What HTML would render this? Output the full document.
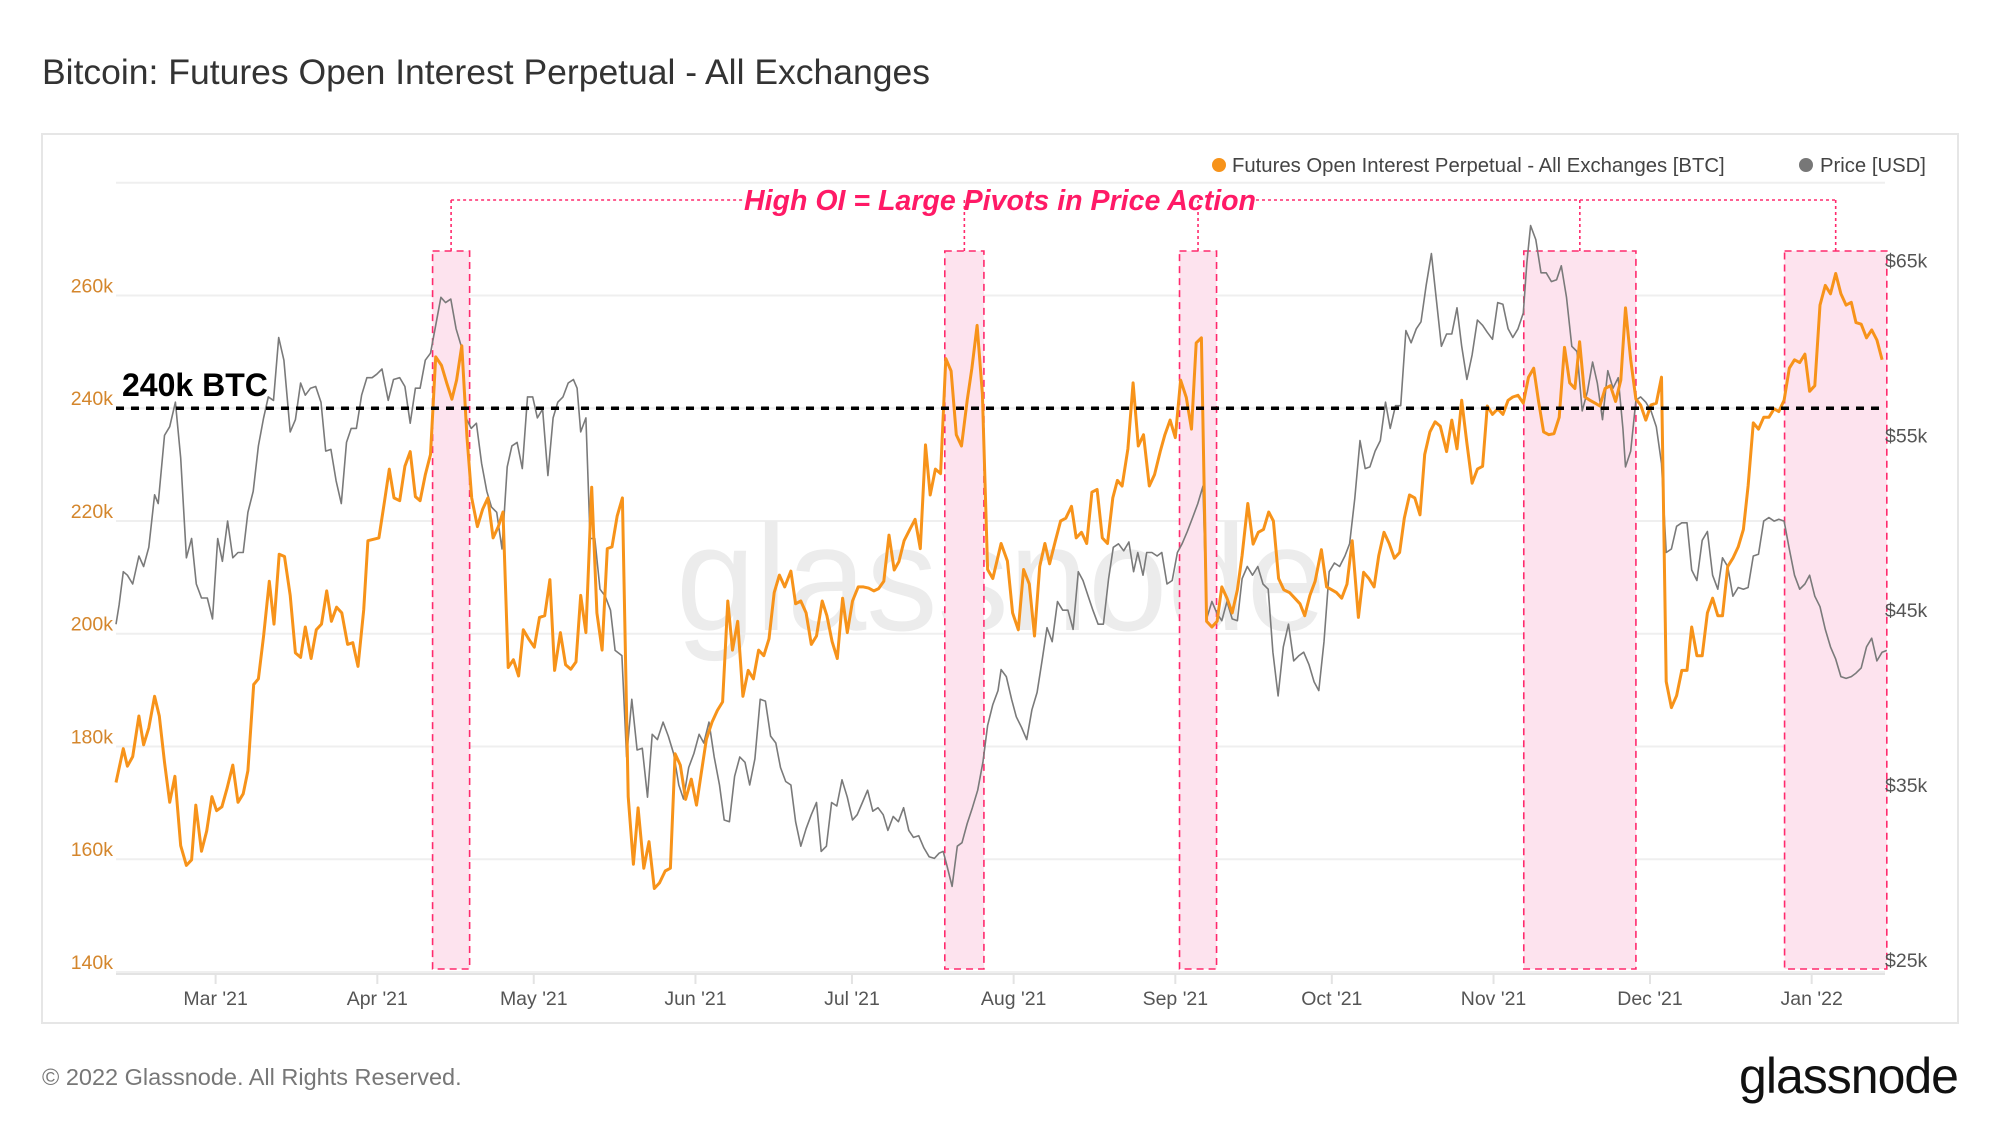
<!DOCTYPE html>
<html><head><meta charset="utf-8">
<style>
html,body{margin:0;padding:0;background:#fff;}
body{width:2000px;height:1126px;overflow:hidden;font-family:"Liberation Sans",sans-serif;}
svg{display:block;}
</style></head>
<body>
<svg id="chart" width="2000" height="1126" viewBox="0 0 2000 1126" xmlns="http://www.w3.org/2000/svg">
  <text x="42" y="84" font-size="35.5" fill="#333">Bitcoin: Futures Open Interest Perpetual - All Exchanges</text>
  <rect x="42" y="134" width="1916" height="889" fill="#fff" stroke="#e6e6e6" stroke-width="2"/>
  <g id="grid"></g>
  <text x="1001" y="630" text-anchor="middle" font-size="150" fill="#ececec" textLength="650" lengthAdjust="spacingAndGlyphs">glassnode</text>
  <g id="boxes"></g>
  <g id="series"></g>
  <g id="axes"></g>
  <g>
    <g>
      <circle cx="1219" cy="165" r="7" fill="#f7931a"/>
      <text x="1232" y="172" font-size="20.3" fill="#444">Futures Open Interest Perpetual - All Exchanges [BTC]</text>
    </g>
    <g>
      <circle cx="1806" cy="165" r="7" fill="#777"/>
      <text x="1820" y="172" font-size="20.3" fill="#444">Price [USD]</text>
    </g>
  </g>
  <text x="122" y="396" font-size="32" font-weight="bold" fill="#000">240k BTC</text>
  <text x="1000" y="210" text-anchor="middle" font-size="29" font-weight="bold" font-style="italic" fill="#ff1a66" textLength="512" lengthAdjust="spacingAndGlyphs">High OI = Large Pivots in Price Action</text>
  <text x="42" y="1085" font-size="23.5" fill="#777">© 2022 Glassnode. All Rights Reserved.</text>
  <text x="1958" y="1093" text-anchor="end" font-size="50" fill="#111" letter-spacing="-1">glassnode</text>
</svg>
<script>
const oiDays=[-19.1,-17.7,-16.9,-15.9,-14.7,-13.8,-12.8,-11.7,-10.8,-9.8,-8.8,-7.8,-6.7,-5.6,-4.6,-3.8,-2.7,-1.7,-0.7,0.2,1.2,2.2,3.3,4.3,5.3,6.2,7.3,8.2,9.2,10.3,11.2,12.2,13.2,14.3,15.3,16.3,17.2,18.3,19.3,20.3,21.3,22.2,23.2,24.2,25.3,26.3,27.3,28.4,29.2,31.3,32.4,33.3,34.2,35.3,36.3,37.3,38.3,39.2,40.2,41.2,42.2,43.3,44.3,45.3,46.2,47.2,48.2,49.1,50.2,51.2,52.2,53.2,54.2,55.1,56.1,57.1,58.1,59,60,61.1,62.1,63.1,64.1,65,66.1,67.1,68.1,69.1,70,71,72.1,73.1,74.1,75.1,76,77,78,79.1,80.1,81,82.1,83.1,84.1,85.1,86.2,87.2,88.1,89.1,90.1,91.2,92.2,93.1,94.1,95.2,96.2,97.2,98.2,99.1,100.1,101.1,102.1,103.1,104.1,105.1,106.1,107.1,108.1,109.1,110.3,111.2,112.2,113.2,114.2,115.2,116.3,117.2,118.2,119.2,120.2,121.1,122.1,123.2,124.2,125.2,126.2,127.1,128.1,129.1,130.1,131,132,133.1,134.1,135.1,136.1,137,138,139,140,141,142,143,144.1,145,146,147,148,149,150.6,151.8,152.8,153.9,154.9,156,157,158,159,159.9,161,162,163,164.1,165,166,167,168,169,170,171,172,172.9,173.8,174.9,175.9,176.9,177.9,179,180,181.1,182,183,184,185,186.1,187.1,188,189,190,191,192,192.9,193.9,194.9,195.9,196.8,197.9,198.9,199.9,200.9,201.9,202.8,203.8,204.8,205.9,206.9,207.9,208.8,209.8,210.8,212,213,214,214.9,215.9,216.9,217.9,219.1,220.1,221.1,222.1,223,224,225,226,227,227.9,228.9,229.9,230.9,231.8,232.8,233.8,234.8,236,237,238,238.9,239.9,240.9,241.9,242.9,243.8,244.8,245.8,246.8,247.8,248.7,249.7,250.7,251.7,252.7,253.6,254.6,255.6,256.6,257.6,258.6,259.6,260.6,261.5,262.5,263.5,264.5,265.4,266.4,267.4,268.4,269.4,270.3,271.3,272.3,273.2,274.2,275.2,276.2,277.2,278.1,279.1,280.1,281.1,282.1,283,284,285,286,287,288,288.9,289.9,290.9,291.9,292.9,293.8,294.8,295.8,296.8,297.8,298.8,299.7,300.7,301.7,302.7,303.7,304.7,305.6,306.6,307.6,308.6,309.6,310.6,311.6,312.6,313.6,314.5,315.5,316.5,317.5,318.5,319.5];
const oiValues=[173.6,179.6,176.5,178.2,185.4,180.3,183.3,188.9,185.4,177.2,170.1,174.7,162.4,158.9,159.9,169.6,161.4,165,171.1,168.6,169.3,172.6,176.7,170.1,171.6,175.7,191,192,199.6,209.3,201.7,214.1,213.7,206.8,196.6,195.8,201.2,195.6,200.7,201.7,207.6,202.2,204.7,203.7,198.1,198.4,194.2,204.2,216.5,217,223.6,229.2,224.1,223.6,229.7,232.3,224.3,223.6,228.2,231.8,249.1,247.6,244.5,241.6,245,251.1,234.8,224.1,219,222.1,224.1,217,219,221.6,194,195.4,192.5,200.7,199.1,197.6,202.9,203.2,209.6,193.5,200.2,194.5,193.7,195,206.8,200.2,226,203.7,197.1,215.1,215.4,220.9,224.1,171.1,159.1,169.1,158.4,163.1,154.8,155.8,157.9,158.4,178.7,176.7,170.6,174.2,169.6,175.2,181.3,184.4,186.4,187.9,205.8,197.1,202.2,188.9,193.5,192,197.1,196.1,199.1,207.3,210.4,208.3,211.1,205.3,205.8,203.7,198.1,199.6,205.8,203.2,198.6,195.6,206.3,200.2,205.8,208.3,208.3,208.1,207.6,208,209.3,217.5,211.3,212.8,216.5,218.5,220.3,215.1,233.5,224.6,229.2,228.4,248.8,246.6,235.3,233.3,241.4,247.1,254.7,242.5,211.4,209.8,216,212.9,203.7,200.7,211.4,208.8,199.6,211.9,216,212.4,216.5,220,220.5,222.6,217,218,216,225.1,225.6,217,216,224.1,227.2,226.2,232.8,244.5,233.3,235.3,226.2,228.2,232.3,235.3,237.9,234.8,245,241.9,236.3,251.6,252.5,202.2,201.2,202.2,208.3,206.3,203.7,207.8,213.9,223.1,215.9,218,218.5,221.6,220,209.8,207.8,207.3,206.3,205.3,203.2,206.8,209.3,214.9,208.3,207.8,207.3,206.3,208.8,216.5,202.9,210.9,209.8,208.3,213.9,218,216,213.4,214.4,220.5,224.6,224.1,221.1,231.8,235.8,237.6,236.8,232.3,237.9,232.8,241.4,233.8,226.7,229.2,229.7,240.4,238.9,239.9,238.9,241.4,242,242.3,240.9,245.5,247.1,241.4,235.8,235.3,235.5,238.4,250.8,244.5,243.5,251.8,242,241.4,240.9,240.4,243.5,244,241.2,245,257.8,248.6,241.6,240.6,237.9,240.6,240.9,245.5,191.5,186.9,189,193.5,193.5,201.2,196.1,196.1,203.7,206.3,203.2,203.2,211.9,213.4,215.4,218.5,226.2,237.4,236.3,238.4,238.4,239.9,239.4,241.4,247.1,248.6,248.1,249.6,243,244,258.3,261.8,260.3,263.9,260.3,258.3,258.8,255.2,254.9,252.5,253.9,252.1,248.6];
const priceDays=[-19.1,-18.5,-17.7,-16.9,-15.9,-14.7,-13.8,-12.8,-11.7,-11,-9.8,-8.8,-7.7,-6.7,-5.6,-4.6,-3.7,-2.7,-1.6,-0.6,0.4,1.3,2.3,3.3,4.3,5.3,6.2,7.2,8.2,9.2,10.1,11.1,12.1,13.1,14.3,15.3,16.3,17.2,18.2,19.2,20.2,21.1,22.1,23.1,24.1,25.1,26,27,28,29,30,30.9,31.9,33.1,34.1,35.3,36.3,37.3,38.3,39.2,40.2,41.2,42.2,43.2,44.1,45.1,46.1,47.1,48,49,50,51,52,52.9,53.9,54.9,55.9,56.8,57.8,58.8,59.8,60.8,61.7,62.7,63.7,64.7,65.6,66.6,67.6,68.6,69.3,70,71,71.8,72.7,73.7,74.7,75.7,76.6,77.9,78.8,79.8,80.8,81.8,82.8,83.7,84.7,85.8,86.8,87.8,88.8,89.7,90.7,91.7,92.7,93.6,94.6,95.6,96.6,97.5,98.5,99.5,100.5,101.5,102.4,103.4,104.4,105.4,106.4,107.4,108.3,109.3,110.3,111.2,112.2,113.2,114.2,115.2,116.1,117.1,118.1,119.1,120.1,121.1,122.1,123,124,125,126,127,128,128.9,129.9,130.9,131.9,132.9,133.8,134.8,135.8,136.8,137.8,138.7,139.5,140.2,141.2,142.2,143.1,144.1,145.1,146.1,147.1,148,149,150,150.6,151.6,152.6,153.5,154.5,155.5,156.5,157.5,158.5,159.4,160.4,161.4,162.4,163.4,164.4,165.4,166.3,167.3,168.2,169.2,170.2,171.2,172.1,173.1,174.1,175.1,176,176.8,177.8,178.5,179.5,180.5,181.4,182.4,183.4,184.4,185.3,186.3,187.3,188.3,189.3,190,191,192,192.9,193.9,194.9,195.9,196.8,197.8,198.8,199.8,200.8,201.8,202.7,203.7,204.7,205.7,206.7,207.7,208.6,209.6,210.6,211.5,212.5,213.5,214.5,215.5,216.5,217.4,218.4,219.4,220.4,221.3,222.3,223.3,224.3,225.2,226.2,227.2,228.2,229.2,230.2,231.1,232.1,233.1,234,235,236,237,238,238.9,239.9,240.9,241.9,242.9,243.8,244.8,245.8,246.8,247.8,248.7,249.7,250.7,251.4,252.1,253.1,254.1,255.1,256.1,257.1,258,259,260,261,262,263,264,264.9,265.9,266.9,267.9,268.9,269.8,270.3,271.3,272.3,273.2,274.2,275.2,276.2,277.2,278.1,279.1,280.1,281.1,282.1,283,284,285,286,287,288,288.9,289.9,290.9,291.9,292.9,293.8,294.8,295.8,296.8,297.8,298.8,299.7,300.7,301.7,302.7,303.7,304.7,305.6,306.6,307.6,308.6,309.6,310.6,311.6,312.6,313.6,314.5,315.5,316.5,317.5,318.5,319.5,320.4];
const priceValues=[44.2,45.3,47.2,47,46.5,48.1,47.5,48.6,51.6,51.1,55,55.5,56.9,53.7,48,49.1,46.5,45.7,45.7,44.5,49.1,47.8,50.1,48,48.3,48.3,50.6,51.8,54.4,56,57.2,57,60.6,59.3,55.2,55.9,58,57.3,57.7,57.8,56.9,54.1,54.2,52.4,51.1,54.6,55.4,55.4,57.3,58.3,58.3,58.5,58.8,57,58.2,58.3,57.8,55.7,57.7,57.7,59.3,59.7,61.3,62.9,62.6,62.8,61.1,60.1,56,55.4,55.7,53.4,51.8,50.9,50.6,48.5,53.2,54.4,54.6,53.1,57.2,57.2,56,56.5,52.7,56,56.9,57.2,58,58.2,57.7,55.2,56,49.1,49.1,46.2,45.8,45,42.7,42.4,36.6,39.9,37,37.1,34.3,37.9,37.6,38.6,37.8,36.8,35,34.2,36,36.8,37.9,37.4,38.6,36.6,35,33,32.9,35.5,36.6,36.3,35,36.5,39.9,39.8,37.8,37.4,36,35.2,35,32.9,31.5,32.5,33.3,34,31.2,31.5,34,33.8,35.3,34.3,33,33.3,34,34.7,33.5,33.7,33.3,32.4,33.2,32.9,33.7,32.4,32,32.1,31.4,30.9,30.8,31.1,31.2,30.4,29.2,31.5,31.7,32.8,33.7,34.7,36.3,38.4,39.6,40.4,41.6,41.2,39.9,38.9,38.3,37.6,39.3,40.3,42.2,44,43.2,45.5,45,45,43.9,47.2,46.7,45.8,45,44.2,44.2,46.8,48.6,48.8,48.4,48.9,47.2,48.3,47,48.3,48.3,48.1,48.3,46.5,46.7,48.3,48.8,49.5,50.3,51.1,52.1,44.5,45.5,44.8,44.4,45.5,44.5,44.4,46.8,47.5,47,47.5,46.5,46.2,42.6,40.1,42.9,44.2,42.1,42.4,42.6,41.9,40.9,40.4,43.2,47.2,47.7,47.5,48.1,48.8,51.4,54.7,53.1,53.2,54.1,54.7,56.9,55.4,56.7,56.7,61,60.3,61.1,61.5,63.6,65.4,62.9,60.1,60.8,60.8,62.3,60.1,58.2,59.6,61.6,61.3,60.9,60.5,62.6,62.5,61.1,60.6,61.1,62,64.9,67,66.2,64.3,64.3,63.8,63.9,64.7,62.9,60.1,59.8,56.4,57.5,59.2,58,55.9,58.7,57.7,58.3,55.4,53.2,54.1,57,57.2,56.9,56.4,55.5,53.4,48.3,48.5,49.8,50,50,47.3,46.7,49,49.5,47,46.2,48,47.5,45.8,46.3,46.2,46.3,48.1,48.2,50.1,50.3,50.1,50.2,50.1,48.5,47,46.2,46.5,47,45.8,45.2,43.9,42.9,42.2,41.2,41.1,41.2,41.4,41.7,42.9,43.4,42.1,42.6,42.7];
const leftTicks=[140,160,180,200,220,240,260,280];
const leftTickLabels=["140k","160k","180k","200k","220k","240k","260k",""];
const rightTicks=[25,35,45,55,65];
const rightTickLabels=["$25k","$35k","$45k","$55k","$65k"];
const monthDays=[0,31,61,92,122,153,184,214,245,275,306];
const monthLabels=["Mar '21","Apr '21","May '21","Jun '21","Jul '21","Aug '21","Sep '21","Oct '21","Nov '21","Dec '21","Jan '22"];
const highlightStart=[41.6,139.8,184.8,250.8,300.8];
const highlightEnd=[48.7,147.3,191.9,272.3,320.4];
const threshold=240;

const NS="http://www.w3.org/2000/svg";
const X0=116,X1=1885;
function x(d){return 215.6+d*5.216;}
function yL(v){return 295.5+(260-v)*5.637;}
function yR(p){return 260.6+(65-p)*17.48;}
function mk(tag,attrs,parent){const e=document.createElementNS(NS,tag);for(const k in attrs)e.setAttribute(k,attrs[k]);parent.appendChild(e);return e;}

const grid=document.getElementById('grid');
leftTicks.forEach(function(v,i){
  const l=mk('line',{x1:X0,x2:X1,y1:yL(v),y2:yL(v),stroke:'#efefef','stroke-width':2},grid);
  
  
});
const axes=document.getElementById('axes');
leftTicks.forEach(function(v,i){
  if(!leftTickLabels[i])return;
  const t=mk('text',{x:113,y:yL(v)-3,'text-anchor':'end','font-size':19.5,fill:'#d4862c'},axes);
  t.textContent=leftTickLabels[i];
  
  
});
rightTicks.forEach(function(p,i){
  const t=mk('text',{x:1885,y:yR(p)+7,'font-size':19.5,fill:'#555'},axes);
  t.textContent=rightTickLabels[i];
  
  
});
const axl=mk('line',{x1:X0,x2:X1,y1:974,y2:974,stroke:'#e3e3e3','stroke-width':2},axes);


monthDays.forEach(function(d,i){
  const tk=mk('line',{x1:x(d),x2:x(d),y1:974,y2:984,stroke:'#e3e3e3','stroke-width':2},axes);
  
  
  const t=mk('text',{x:x(d),y:1005,'text-anchor':'middle','font-size':19.5,fill:'#555'},axes);
  t.textContent=monthLabels[i];
  
  
});

const boxes=document.getElementById('boxes');
const annY=200,boxTop=251,boxBot=969;
highlightStart.forEach(function(s,i){
  const x1=x(s),x2=x(highlightEnd[i]);
  const r=mk('rect',{x:x1,y:boxTop,width:x2-x1,height:boxBot-boxTop,fill:'#fde3ee',stroke:'#ff2a6d','stroke-width':1.6,'stroke-dasharray':'7,5'},boxes);
  
  
  const c=(x1+x2)/2;
  const v=mk('line',{x1:c,x2:c,y1:annY,y2:boxTop,stroke:'#ff2a6d','stroke-width':1.6,'stroke-dasharray':'3,3'},boxes);
  
  
});
const cFirst=(x(highlightStart[0])+x(highlightEnd[0]))/2;
const cLast=(x(highlightStart[4])+x(highlightEnd[4]))/2;
[[cFirst,744],[1256,cLast]].forEach(function(seg){
  const h=mk('line',{x1:seg[0],x2:seg[1],y1:annY,y2:annY,stroke:'#ff2a6d','stroke-width':1.6,'stroke-dasharray':'3,3'},boxes);
  
  
});

const series=document.getElementById('series');
let pp='';priceDays.forEach(function(d,i){pp+=(i?'L':'M')+x(d).toFixed(1)+','+yR(priceValues[i]).toFixed(1);});
const pl=mk('path',{d:pp,fill:'none',stroke:'#7a7a7a','stroke-width':1.6,'stroke-linejoin':'round'},series);


let op='';oiDays.forEach(function(d,i){op+=(i?'L':'M')+x(d).toFixed(1)+','+yL(oiValues[i]).toFixed(1);});
const ol=mk('path',{d:op,fill:'none',stroke:'#f7931a','stroke-width':3,'stroke-linejoin':'round'},series);


const th=mk('line',{x1:X0,x2:X1,y1:yL(threshold),y2:yL(threshold),stroke:'#000','stroke-width':3.5,'stroke-dasharray':'8,7'},series);


</script>
</body></html>
